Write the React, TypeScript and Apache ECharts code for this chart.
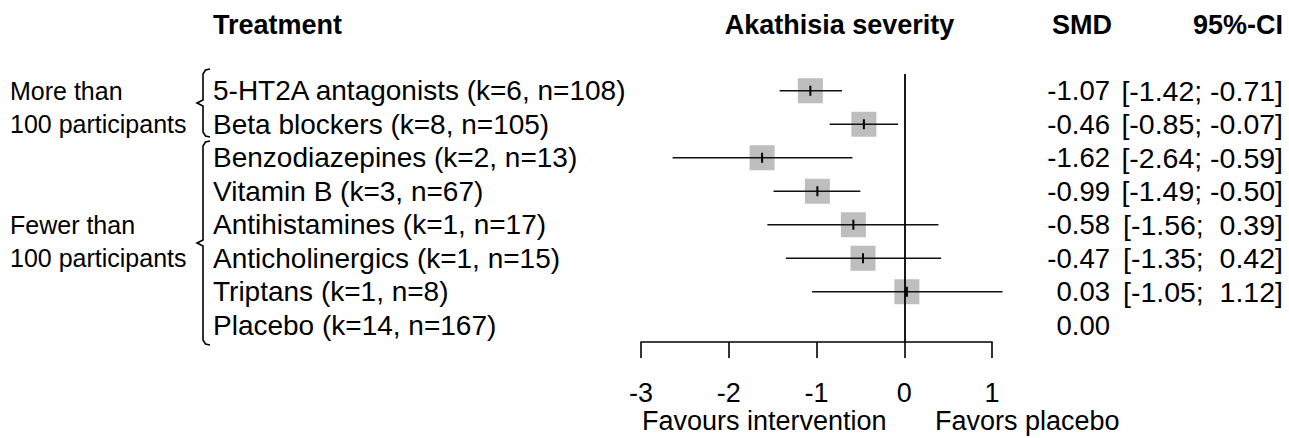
import React, { useEffect, useRef } from "react";
import * as echarts from "echarts";

// ---- data ----
const treatments = [
  "5-HT2A antagonists (k=6, n=108)",
  "Beta blockers (k=8, n=105)",
  "Benzodiazepines (k=2, n=13)",
  "Vitamin B (k=3, n=67)",
  "Antihistamines (k=1, n=17)",
  "Anticholinergics (k=1, n=15)",
  "Triptans (k=1, n=8)",
  "Placebo (k=14, n=167)",
];
const smd: number[] = [-1.07, -0.46, -1.62, -0.99, -0.58, -0.47, 0.03, 0.0];
const ciLower: (number | null)[] = [-1.42, -0.85, -2.64, -1.49, -1.56, -1.35, -1.05, null];
const ciUpper: (number | null)[] = [-0.71, -0.07, -0.59, -0.5, 0.39, 0.42, 1.12, null];
const xMin = -3;
const xMax = 1;
const xInterval = 1;
const headers = { treatment: "Treatment", plot: "Akathisia severity", smd: "SMD", ci: "95%-CI" };
const groupLabels = [
  ["More than", "100 participants"],
  ["Fewer than", "100 participants"],
];
const groupLabelRows = [
  [0, 1],
  [4, 5],
];
const favLeft = "Favours intervention";
const favRight = "Favors placebo";

const FONT = "'Liberation Sans', Arial, Helvetica, sans-serif";

function fmt(v: number): string {
  const s = v.toFixed(2);
  return v >= 0 ? " " + s : s;
}

export default function App() {
  const ref = useRef<HTMLDivElement>(null);
  useEffect(() => {
    if (!ref.current) return;
    const chart = echarts.init(ref.current, undefined, { renderer: "svg" });

    const gridTop = 74;
    const gridBottomY = 342;
    const band = (gridBottomY - gridTop) / treatments.length;
    const rowY = (i: number) => gridTop + band * (i + 0.5);

    const ciData = treatments
      .map((_, i) => [smd[i], i, ciLower[i], ciUpper[i]])
      .filter((d) => d[2] !== null && d[3] !== null);

    // bracket geometry (layout only): top, tip, bottom
    const bracketGeom = [
      [69, 103, 137],
      [141, 243, 345],
    ];

    const brackets: any[] = [];
    bracketGeom.forEach(([top, mid, bot], gi) => {
      const X = 203;
      brackets.push({
        type: "polyline",
        shape: {
          points: [
            [X + 7, top],
            [X + 2.5, top + 1],
            [X, top + 5],
            [X, mid - 3],
            [X - 6, mid],
            [X, mid + 3],
            [X, bot - 5],
            [X + 2.5, bot - 1],
            [X + 7, bot],
          ],
        },
        style: { stroke: "#000", lineWidth: 1.6, fill: null },
      });
      groupLabels[gi].forEach((t, li) => {
        brackets.push({
          type: "text",
          style: {
            text: t,
            x: 10,
            y: rowY(groupLabelRows[gi][li]),
            font: `25px ${FONT}`,
            fill: "#000",
            textAlign: "left",
            textVerticalAlign: "middle",
          },
        });
      });
    });

    const headerStyle = (text: string, x: number, align: string) => ({
      type: "text",
      style: {
        text,
        x,
        y: 25,
        font: `bold 27px ${FONT}`,
        fill: "#000",
        textAlign: align,
        textVerticalAlign: "middle",
      },
    });

    const favStyle = (text: string, x: number) => ({
      type: "text",
      style: {
        text,
        x,
        y: 421,
        font: `27px ${FONT}`,
        lineHeight: 22,
        fill: "#000",
        textAlign: "left",
        textVerticalAlign: "middle",
      },
    });

    chart.setOption({
      animation: false,
      backgroundColor: "#fff",
      grid: { left: 641, right: 297, top: gridTop, height: gridBottomY - gridTop, containLabel: false },
      xAxis: {
        type: "value",
        min: xMin,
        max: xMax,
        interval: xInterval,
        splitLine: { show: false },
        axisLine: { show: true, lineStyle: { color: "#000", width: 1.6 } },
        axisTick: { show: true, inside: false, length: 16, lineStyle: { color: "#000", width: 1.6 } },
        axisLabel: { fontSize: 27, lineHeight: 22, fontFamily: FONT, color: "#000", margin: 40 },
      },
      yAxis: [
        {
          type: "category",
          data: treatments,
          inverse: true,
          position: "left",
          axisLine: { show: false },
          axisTick: { show: false },
          splitLine: { show: false },
          axisLabel: {
            interval: 0,
            align: "left",
            margin: 641 - 213,
            fontSize: 28,
            fontFamily: FONT,
            color: "#000",
          },
        },
        {
          type: "category",
          data: treatments,
          inverse: true,
          position: "right",
          axisLine: { show: false },
          axisTick: { show: false },
          splitLine: { show: false },
          axisLabel: {
            interval: 0,
            align: "right",
            margin: 1283 - 992,
            fontSize: 28,
            fontFamily: FONT,
            color: "#000",
            formatter: (_: string, idx: number) => {
              const lo = ciLower[idx];
              const hi = ciUpper[idx];
              const ci = lo !== null && hi !== null ? `[${fmt(lo)}; ${fmt(hi)}]` : " ";
              return `{s|${smd[idx].toFixed(2)}}{c|${ci}}`;
            },
            rich: {
              s: { fontSize: 27.5, fontFamily: FONT, color: "#000", width: 90, align: "right" },
              c: { fontSize: 28.5, fontFamily: FONT, color: "#000", width: 173, align: "right" },
            },
          },
        },
      ],
      series: [
        {
          type: "custom",
          xAxisIndex: 0,
          yAxisIndex: 0,
          z: 3,
          data: ciData,
          encode: { x: [0, 2, 3], y: 1 },
          renderItem: (_params: any, api: any) => {
            const est = api.value(0);
            const row = api.value(1);
            const lo = api.value(2);
            const hi = api.value(3);
            const pE = api.coord([est, row]);
            const pL = api.coord([lo, row]);
            const pH = api.coord([hi, row]);
            const half = 12.5;
            return {
              type: "group",
              children: [
                {
                  type: "rect",
                  shape: { x: pE[0] - half, y: pE[1] - half, width: half * 2, height: half * 2 },
                  style: { fill: "#bebebe" },
                },
                {
                  type: "line",
                  shape: { x1: pL[0], y1: pL[1], x2: pH[0], y2: pH[1] },
                  style: { stroke: "#111", lineWidth: 1.7 },
                },
                {
                  type: "line",
                  shape: { x1: pE[0], y1: pE[1] - 5, x2: pE[0], y2: pE[1] + 5 },
                  style: { stroke: "#000", lineWidth: 2 },
                },
              ],
            };
          },
          markLine: {
            silent: true,
            symbol: ["none", "none"],
            label: { show: false },
            lineStyle: { color: "#000", width: 1.8, type: "solid" },
            data: [{ xAxis: 0 }],
          },
        },
      ],
      graphic: [
        headerStyle(headers.treatment, 213, "left"),
        headerStyle(headers.plot, 839.5, "center"),
        headerStyle(headers.smd, 1112, "right"),
        headerStyle(headers.ci, 1283, "right"),
        ...brackets,
        favStyle(favLeft, 642),
        favStyle(favRight, 935),
      ],
    });
    return () => chart.dispose();
  }, []);
  return (
    <div
      ref={ref}
      style={{ position: "absolute", left: 0, top: 0, width: "1289px", height: "438px" }}
    />
  );
}
